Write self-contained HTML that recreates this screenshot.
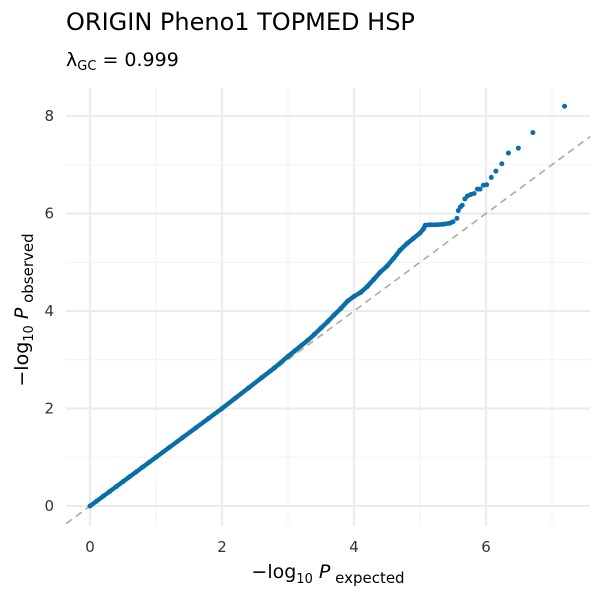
<!DOCTYPE html>
<html><head><meta charset="utf-8"><style>
body{margin:0;background:#fff;}
svg text{font-family:"DejaVu Sans","Liberation Sans",sans-serif;}
</style></head><body>
<svg id="chart" width="600" height="600" xmlns="http://www.w3.org/2000/svg">
<rect width="600" height="600" fill="#fff"/>
<text x="66" y="30" font-size="24" fill="#000">ORIGIN Pheno1 TOPMED HSP</text>
<text x="66" y="66" font-size="19" fill="#000">λ<tspan font-size="13" dy="4">GC</tspan><tspan dy="-4"> = 0.999</tspan></text>
<g id="grid"></g>
<g id="ref"></g>
<g id="pts"></g>
<g id="ticks"></g>
<text x="328" y="578" font-size="19" text-anchor="middle" fill="#000">−log<tspan font-size="13" dy="5">10</tspan><tspan dy="-5" font-style="italic"> P</tspan><tspan font-size="15" dy="5"> expected</tspan></text>
<text transform="translate(28,310) rotate(-90)" font-size="19" text-anchor="middle" fill="#000">−log<tspan font-size="13" dy="5">10</tspan><tspan dy="-5" font-style="italic"> P</tspan><tspan font-size="15" dy="5"> observed</tspan></text>
</svg>
<script>
const xTicks=[0,2,4,6];
const yTicks=[0,2,4,6,8];
const expected=[0,0.1,0.2,0.3,0.4,0.5,0.6,0.7,0.8,0.9,1.0,1.2,1.4,1.6,1.8,2.0,2.2,2.4,2.6,2.8,3.0,3.1,3.2,3.3,3.4,3.5,3.6,3.7,3.8,3.9,4.0,4.1,4.2,4.3,4.4,4.5,4.6,4.7,4.8,4.9,5.0,5.05,5.08,5.15,5.25,5.35,5.45,5.5,5.56,5.58,5.61,5.64,5.68,5.72,5.77,5.82,5.87,5.91,5.96,6.01,6.08,6.15,6.24,6.34,6.49,6.71,7.19];
const observed=[0,0.1,0.2,0.3,0.4,0.5,0.6,0.7,0.8,0.9,1.0,1.2,1.4,1.6,1.8,2.0,2.21,2.42,2.63,2.84,3.07,3.18,3.29,3.4,3.52,3.65,3.78,3.92,4.05,4.2,4.3,4.38,4.5,4.65,4.8,4.92,5.08,5.25,5.38,5.49,5.6,5.68,5.76,5.77,5.77,5.78,5.8,5.83,5.90,6.06,6.13,6.17,6.30,6.36,6.39,6.41,6.50,6.50,6.58,6.59,6.74,6.87,7.02,7.24,7.34,7.66,8.20];
const X0=-0.36,X1=7.58;
const PL=66,PR=590,PT=88,PB=526;
const sx=v=>90+v*66, sy=v=>506-v*48.75;
const NS="http://www.w3.org/2000/svg";
function mk(tag,attrs,parent){const e=document.createElementNS(NS,tag);for(const k in attrs)e.setAttribute(k,attrs[k]);parent.appendChild(e);return e;}
const grid=document.getElementById('grid');
for(let v=0;v<=7;v++){const maj=v%2===0;const l=mk('line',{x1:sx(v),x2:sx(v),y1:PT,y2:PB,stroke:maj?'#ebebeb':'#f2f2f2','stroke-width':maj?2:1},grid);

}
for(let v=0;v<=8;v++){const maj=v%2===0;const l=mk('line',{x1:PL,x2:PR,y1:sy(v),y2:sy(v),stroke:maj?'#ebebeb':'#f2f2f2','stroke-width':maj?2:1},grid);

}
const ref=mk('line',{x1:sx(X0),y1:sy(X0),x2:sx(X1),y2:sy(X1),stroke:'#a9a9a9','stroke-width':1.6,'stroke-dasharray':'7,5'},document.getElementById('ref'));


const pts=document.getElementById('pts');
let d='';
for(let i=0;i<expected.length;i++){if(expected[i]<=5.5)d+=(d?'L':'M')+sx(expected[i])+','+sy(observed[i]);}
const band=mk('path',{d:d,fill:'none',stroke:'#0a6fa8','stroke-width':4.5,'stroke-linejoin':'round','stroke-linecap':'round'},pts);


for(let i=0;i<expected.length;i++){const c=mk('circle',{cx:sx(expected[i]),cy:sy(observed[i]),r:2.5,fill:'#0a6fa8'},pts);

}
const tk=document.getElementById('ticks');
xTicks.forEach(v=>{const t=mk('text',{x:sx(v),y:552,'font-size':15,'text-anchor':'middle',fill:'#333'},tk);t.textContent=v;

});
yTicks.forEach(v=>{const t=mk('text',{x:54,y:sy(v)+5,'font-size':15,'text-anchor':'end',fill:'#333'},tk);t.textContent=v;

});
</script>
</body></html>
